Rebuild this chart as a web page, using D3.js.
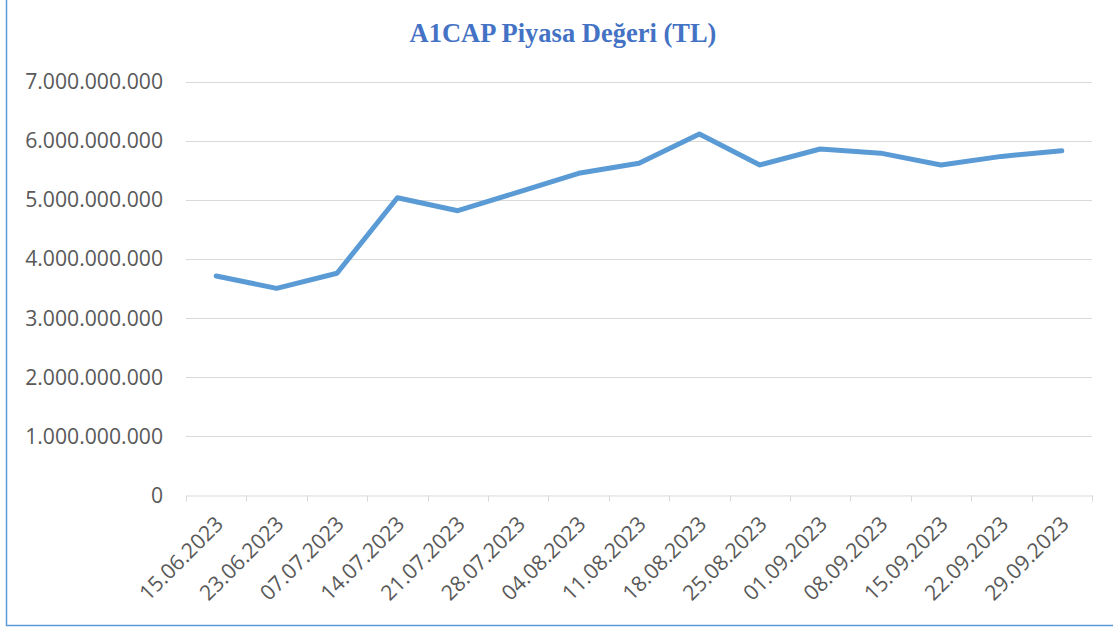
<!DOCTYPE html>
<html>
<head>
<meta charset="utf-8">
<script src="https://cdn.jsdelivr.net/npm/d3@7"></script>
<style>
  html, body { margin: 0; padding: 0; background: #fff; }
  svg { display: block; }
</style>
</head>
<body>
<svg id="chart" width="1113" height="627"></svg>
<script>
const title = "A1CAP Piyasa Değeri (TL)";
const categories = ["15.06.2023","23.06.2023","07.07.2023","14.07.2023","21.07.2023","28.07.2023","04.08.2023","11.08.2023","18.08.2023","25.08.2023","01.09.2023","08.09.2023","15.09.2023","22.09.2023","29.09.2023"];
const values = [3710000000, 3500000000, 3755000000, 5035000000, 4815000000, 5130000000, 5449000000, 5618000000, 6114000000, 5590000000, 5860000000, 5790000000, 5590000000, 5735000000, 5830000000];
const yTicks = [0, 1000000000, 2000000000, 3000000000, 4000000000, 5000000000, 6000000000, 7000000000];

const svg = d3.select("#chart");
const W = 1113, H = 627;
const m = { left: 186, right: 1092, top: 81.7, bottom: 495 };

// frame
svg.append("rect")
  .attr("x", 6.5).attr("y", -5)
  .attr("width", W + 10).attr("height", 630.5)
  .attr("fill", "none").attr("stroke", "#5B9BD5").attr("stroke-width", 1.5);

// title
svg.append("text")
  .attr("x", 563).attr("y", 42)
  .attr("text-anchor", "middle")
  .attr("font-family", "'Liberation Serif', 'Times New Roman', serif")
  .attr("font-weight", "bold")
  .attr("font-size", 26.5)
  .attr("fill", "#4472C4")
  .text(title);

const x = d3.scaleBand().domain(categories).range([m.left, m.right]).padding(0);
const y = d3.scaleLinear().domain([0, 7000000000]).range([m.bottom, m.top]);

const fmt = v => d3.format(",")(v).replace(/,/g, ".");

// gridlines
svg.append("g")
  .selectAll("line")
  .data(yTicks.filter(d => d > 0))
  .join("line")
  .attr("x1", m.left).attr("x2", m.right)
  .attr("y1", d => Math.round(y(d)) + 0.5).attr("y2", d => Math.round(y(d)) + 0.5)
  .attr("stroke", "#D9D9D9").attr("stroke-width", 1);

// y labels
svg.append("g")
  .selectAll("text")
  .data(yTicks)
  .join("text")
  .attr("x", 163).attr("y", d => y(d))
  .attr("dy", "0.36em")
  .attr("text-anchor", "end")
  .attr("font-family", "'Open Sans', sans-serif")
  .attr("font-size", 21.2)
  .attr("fill", "#595959")
  .text(d => fmt(d));

// x axis
const xAxis = d3.axisBottom(x).tickSize(0).tickFormat("");
const gx = svg.append("g").attr("transform", `translate(0,${Math.round(m.bottom) + 0.5})`).call(xAxis);
gx.select(".domain").attr("stroke", "#D9D9D9").attr("stroke-width", 1);
const bounds = categories.map(c => x(c)).concat([m.right]);
gx.selectAll(".bt")
  .data(bounds)
  .join("line")
  .attr("class", "bt")
  .attr("x1", d => Math.round(d) + 0.5).attr("x2", d => Math.round(d) + 0.5)
  .attr("y1", 0).attr("y2", 6)
  .attr("stroke", "#D9D9D9").attr("stroke-width", 1);

// x labels
svg.append("g")
  .selectAll("text")
  .data(categories)
  .join("text")
  .attr("transform", d => `translate(${x(d) + x.bandwidth() / 2 + 3},${m.bottom + 25}) rotate(-45)`)
  .attr("text-anchor", "end")
  .attr("dy", "0.36em")
  .attr("font-family", "'Open Sans', sans-serif")
  .attr("font-size", 21.2)
  .attr("fill", "#595959")
  .text(d => d);

// line
const line = d3.line()
  .x((d, i) => x(categories[i]) + x.bandwidth() / 2)
  .y(d => y(d));
svg.append("path")
  .datum(values)
  .attr("d", line)
  .attr("fill", "none")
  .attr("stroke", "#5B9BD5")
  .attr("stroke-width", 5)
  .attr("stroke-linejoin", "round")
  .attr("stroke-linecap", "round");
</script>
</body>
</html>
